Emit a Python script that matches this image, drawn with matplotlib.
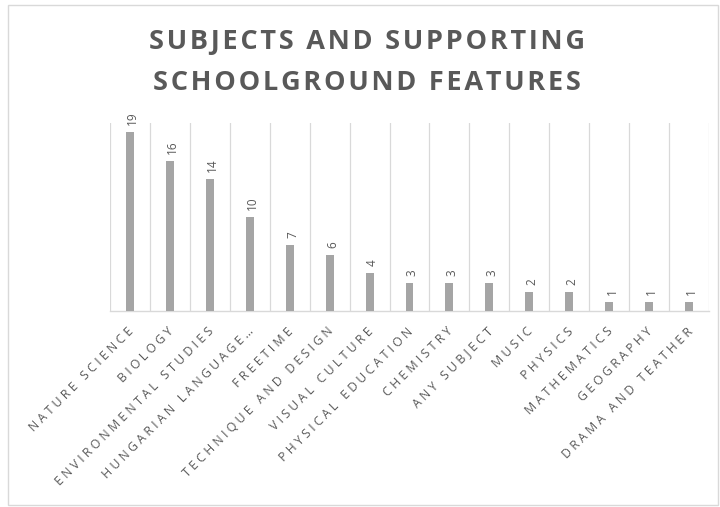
import matplotlib
matplotlib.use("Agg")
import matplotlib.pyplot as plt
from matplotlib.patches import Rectangle

categories = [
    "NATURE SCIENCE", "BIOLOGY", "ENVIRONMENTAL STUDIES", "HUNGARIAN LANGUAGE\u2026",
    "FREETIME", "TECHNIQUE AND DESIGN", "VISUAL CULTURE", "PHYSICAL EDUCATION",
    "CHEMISTRY", "ANY SUBJECT", "MUSIC", "PHYSICS", "MATHEMATICS", "GEOGRAPHY",
    "DRAMA AND TEATHER",
]
values = [19, 16, 14, 10, 7, 6, 4, 3, 3, 3, 2, 2, 1, 1, 1]
title_lines = ["SUBJECTS AND SUPPORTING", "SCHOOLGROUND FEATURES"]

bar_color = "#a5a5a5"
grid_color = "#d9d9d9"
text_color = "#595959"
fonts = ["Open Sans", "DejaVu Sans"]


def spaced(s, gap):
    """Widen the tracking of a label by putting a narrow space between letters."""
    return gap.join(s)


fig = plt.figure(figsize=(7.2, 5.07), dpi=100)
fig.patch.set_facecolor("white")
fig.patches.append(Rectangle((8 / 720, 2 / 507), 710 / 720, 500 / 507,
                             transform=fig.transFigure, fill=False,
                             edgecolor="#d9d9d9", linewidth=1.0))

ax = fig.add_axes([110 / 720, (507 - 311) / 507, 599 / 720, 188 / 507])
x = list(range(len(categories)))
ax.bar(x, values, width=0.2, color=bar_color, zorder=3)

ax.set_xlim(-0.5, len(categories) - 0.5)
ax.set_ylim(0, 20)

# vertical separators between categories
for b in range(len(categories) + 1):
    ax.axvline(b - 0.5, color=grid_color, linewidth=0.9, zorder=1)

for s in ["top", "right", "left"]:
    ax.spines[s].set_visible(False)
ax.spines["bottom"].set_color(grid_color)
ax.spines["bottom"].set_linewidth(1.0)
ax.set_yticks([])
ax.set_xticks(x)
ax.set_xticklabels([])
ax.tick_params(axis="x", length=0)

for xi, c in zip(x, categories):
    ax.annotate(spaced(c, "\u2009\u200a"), (xi, 0), xytext=(-2, -10),
                textcoords="offset points", rotation=45, ha="right", va="top",
                rotation_mode="anchor", fontsize=8.8, color=text_color,
                family=fonts, annotation_clip=False)

for xi, v in zip(x, values):
    ax.annotate(str(v), (xi, v), xytext=(2, 5), textcoords="offset points",
                rotation=90, ha="center", va="bottom", fontsize=8.5,
                color=text_color, family=fonts)

for i, line in enumerate(title_lines):
    fig.text(367 / 720, 1 - (42 + 41 * i) / 507, spaced(line, "\u200a"),
             ha="center", va="center", fontsize=19.5, fontweight="bold",
             color=text_color, family=fonts)

fig.savefig("out.png", dpi=100, facecolor="white")
